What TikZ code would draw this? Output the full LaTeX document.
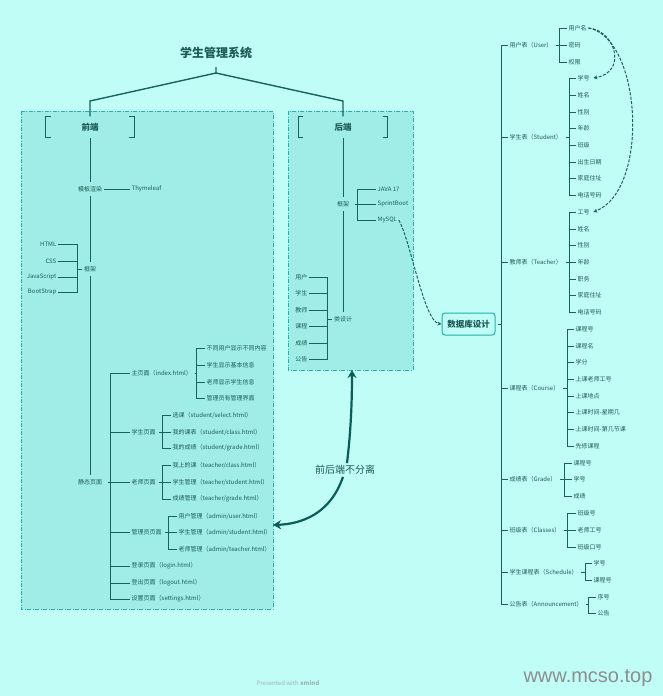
\documentclass[tikz,border=0pt]{standalone}
\usepackage{fontspec}
\setmainfont{Noto Sans CJK SC}
\newfontfamily\wmfont{Liberation Sans}
\usetikzlibrary{arrows.meta}
\definecolor{bg}{HTML}{C1FDF7}
\definecolor{framefill}{HTML}{9FEDE6}
\definecolor{frameline}{HTML}{22B3A6}
\definecolor{ink}{HTML}{17625C}
\definecolor{txt}{HTML}{1F5B56}
\definecolor{darkink}{HTML}{0B5D57}
\definecolor{footgray}{HTML}{9DB3B0}
\definecolor{wmgray}{HTML}{8A8F8E}
\newcommand\grp[5]{%
  \coordinate (#1-s) at (#3,#2);
  \draw[conn] ([xshift=2pt]#1.east) -- (#1-s);
  \foreach \yy/\tx [count=\i] in {#5} {
    \node[lw] (#1-\i) at (#4,\yy) {\tx};
    \draw[conn] (#1-s) |- (#1-\i.west);
  }
}
\begin{document}
\begin{tikzpicture}[x=1pt,y=-1pt,
  lbl/.style={font=\fontsize{6}{7}\selectfont, text=txt, inner sep=1.5pt},
  lw/.style={lbl,anchor=west},
  le/.style={lbl,anchor=east},
  trunk/.style={lbl,inner sep=4pt},
  conn/.style={draw=ink, line width=0.9pt},
  framebox/.style={fill=framefill, draw=frameline, line width=0.8pt, dash pattern=on 4pt off 1.5pt on 1pt off 1.5pt},
  head/.style={font=\fontsize{8.5}{10}\selectfont\bfseries, text=txt, minimum height=21pt, inner sep=0pt},
  bracket/.style={draw=ink, line width=1.3pt},
  dashconn/.style={draw=ink, line width=1pt, dash pattern=on 3pt off 1.5pt, -{Stealth[length=4pt,width=4pt]}},
  bigarrow/.style={draw=darkink, line width=2.2pt, -{Stealth[length=8pt,width=9pt]}}]
\fill[bg] (0,0) rectangle (663,696);
\useasboundingbox (0,0) rectangle (663,696);

% frames
\draw[framebox] (21,111) rectangle (273,609);
\draw[framebox] (288,111) rectangle (413,370);
\coordinate (febr) at (273,525);
\coordinate (bebot) at (352,370);

% title
\node[font=\fontsize{12}{14}\selectfont\bfseries, text=txt] (title) at (216,53) {学生管理系统};
\node[head, minimum width=88pt] (fe) at (90,127) {前端};
\node[head, minimum width=89pt] (be) at (343,127) {后端};
\coordinate (tj) at (216,73);
\draw[conn, line width=1.4pt] (216,67) -- (tj) -- (90,101) -- (fe.north);
\draw[conn, line width=1.4pt] (tj) -- (343,101) -- (be.north);
\foreach \b in {fe,be}{
  \draw[bracket] ([xshift=5pt]\b.north west) -- (\b.north west) -- (\b.south west) -- ++(5pt,0);
  \draw[bracket] ([xshift=-5pt]\b.north east) -- (\b.north east) -- (\b.south east) -- ++(-5pt,0);
}

% front-end trunk
\node[trunk] (tmpl) at (90,189) {模板渲染};
\node[trunk] (fk) at (90,269) {框架};
\node[trunk] (st) at (90,482) {静态页面};
\draw[conn] (fe.south) -- (tmpl.north);
\draw[conn] (tmpl.south) -- (fk.north);
\draw[conn] (fk.south) -- (st.north);
\node[lw] (thy) at (130,189) {Thymeleaf};
\draw[conn] ([xshift=-2pt]tmpl.east) -- (thy.west);

% front 框架 children (left)
\coordinate (fks) at (77,269);
\draw[conn] (fks) -- ([xshift=2pt]fk.west);
\foreach \yy/\tx [count=\i] in {244/HTML,261/CSS,277/JavaScript,292/BootStrap}{
  \node[le] (fk-\i) at (58,\yy) {\tx};
  \draw[conn] (fks) |- (fk-\i.east);
}

% static pages
\grp{st}{482}{110}{130}{373/{主页面（index.html）},432/{学生页面},482/{老师页面},532/{管理员页面},566/{登录页面（login.html）},583/{登出页面（logout.html）},599/{设置页面（settings.html）}}
\grp{st-1}{373}{196}{205}{348/{不同用户显示不同内容},365/{学生显示基本信息},382/{老师显示学生信息},398/{管理员有管理界面}}
\grp{st-2}{432}{162}{171}{415/{选课（student/select.html）},432/{我的课表（student/class.html）},448/{我的成绩（student/grade.html）}}
\grp{st-3}{482}{162}{171}{465/{我上的课（teacher/class.html）},482/{学生管理（teacher/student.html）},499/{成绩管理（teacher/grade.html）}}
\grp{st-4}{532}{168}{177}{516/{用户管理（admin/user.html）},532/{学生管理（admin/student.html）},549/{老师管理（admin/teacher.html）}}

% back-end trunk
\node[trunk] (bk) at (343,204) {框架};
\node[trunk] (cls) at (343,319) {类设计};
\draw[conn] (be.south) -- (bk.north);
\draw[conn] (bk.south) -- (cls.north);
\grp{bk}{204}{357}{376}{189/{JAVA 17},204/{SprintBoot},220/{MySQL}}
\coordinate (clss) at (327,319);
\draw[conn] (clss) -- ([xshift=2pt]cls.west);
\foreach \yy/\tx [count=\i] in {277/用户,293/学生,310/教师,326/课程,343/成绩,359/公告}{
  \node[le] (cls-\i) at (309,\yy) {\tx};
  \draw[conn] (clss) |- (cls-\i.east);
}

% database
\node[draw=frameline, line width=1pt, fill=bg, rounded corners=3pt, minimum width=53pt, minimum height=22pt, inner sep=0pt,
      font=\fontsize{8.5}{10}\selectfont\bfseries, text=txt] (db) at (468.5,324) {数据库设计};
\draw[dashconn] (bk-3.east) .. controls (410,238) and (424,322) .. (db.west);
\grp{db}{324}{501}{508}{45/{用户表（User）},137/{学生表（Student）},262/{教师表（Teacher）},388/{课程表（Course）},479/{成绩表（Grade）},530/{班级表（Classes）},572/{学生课程表（Schedule）},604/{公告表（Announcement）}}
\grp{db-1}{45}{559}{567}{28/用户名,45/密码,62/权限}
\grp{db-2}{137}{569}{576}{78/学号,95/姓名,112/性别,128/年龄,145/班级,162/出生日期,178/家庭住址,195/电话号码}
\grp{db-3}{262}{569}{576}{212/工号,229/姓名,245/性别,262/年龄,279/职务,295/家庭住址,312/电话号码}
\grp{db-4}{388}{567}{574}{329/课程号,346/课程名,362/学分,379/上课老师工号,396/上课地点,412/上课时间-星期几,429/上课时间-第几节课,446/先修课程}
\grp{db-5}{479}{564}{572}{463/课程号,479/学号,496/成绩}
\grp{db-6}{530}{567}{576}{513/班级号,530/老师工号,547/班级口号}
\grp{db-7}{572}{585}{592}{563/学号,580/课程号}
\grp{db-8}{604}{588}{596}{597/序号,613/公告}

% dashed references
\draw[dashconn] (db-1-1.east) .. controls (615,30) and (628,72) .. ([xshift=2pt]db-2-1.east);
\draw[dashconn] (db-1-1.east) .. controls (642,38) and (650,190) .. ([xshift=2pt]db-3-1.east);

% front/back arrow
\node[font=\fontsize{10}{12}\selectfont, text=txt, inner sep=2pt] (sep) at (345,470) {前后端不分离};
\draw[bigarrow] (sep.north) ++(2,0) .. controls (351,430) and (352,400) .. (bebot);
\draw[bigarrow] (sep.south) ++(-2,0) .. controls (330,515) and (300,524) .. (febr);

% footer
\node[font=\fontsize{6}{7}\selectfont, text=footgray] (pw) at (288,683) {Presented with \textbf{xmind}};
\node[font=\wmfont\fontsize{20}{22}\selectfont, text=wmgray] (wm) at (588,678) {www.mcso.top};
\end{tikzpicture}
\end{document}
